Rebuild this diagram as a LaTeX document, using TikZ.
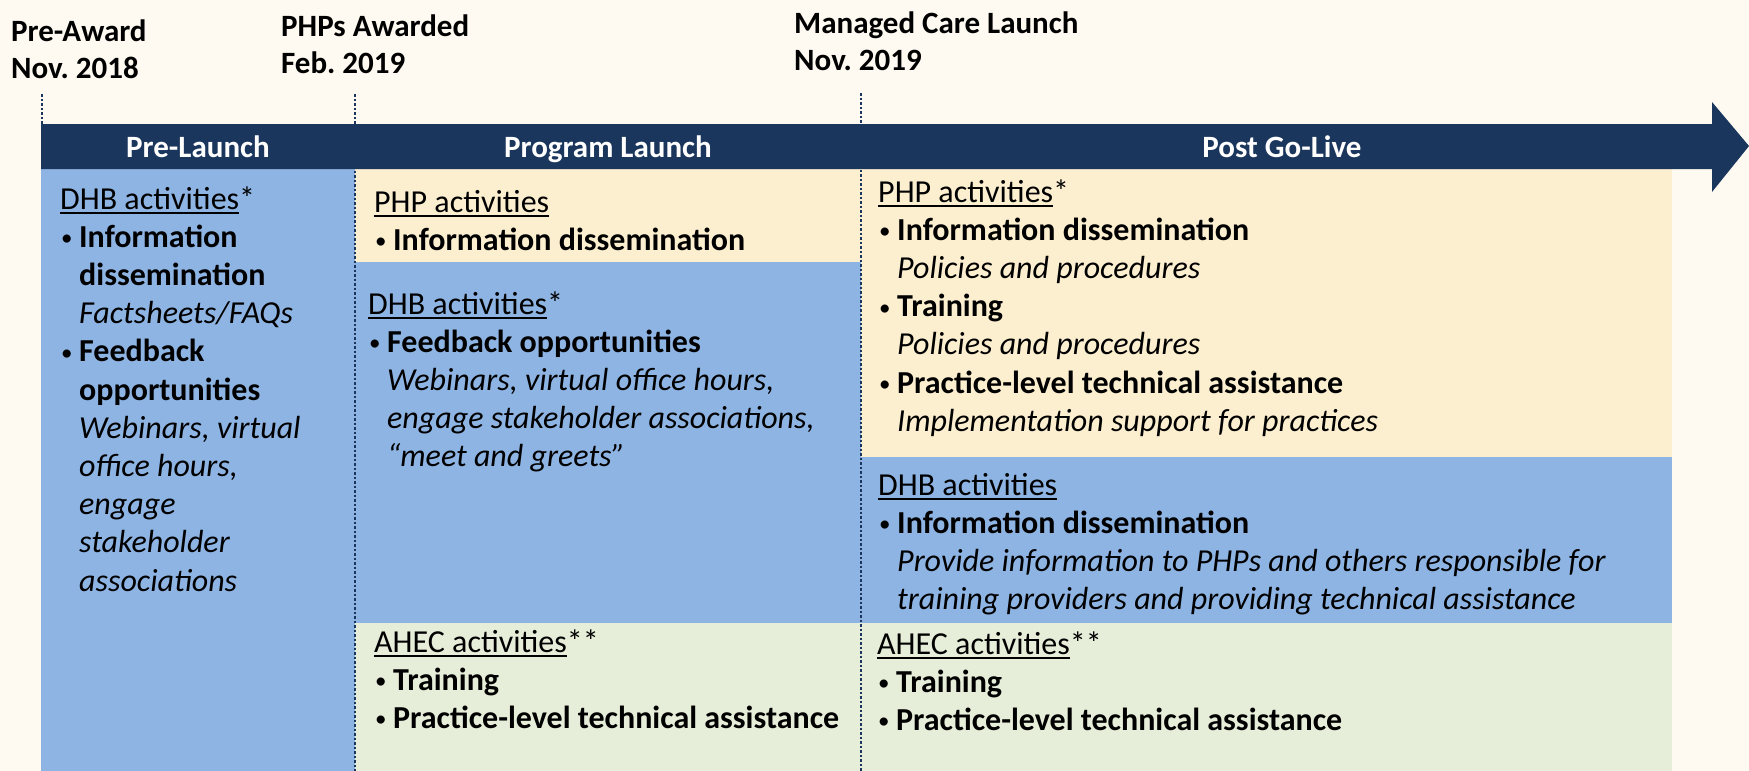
\documentclass[tikz,border=0pt]{standalone}
\usepackage{fontspec}
\setmainfont{Carlito}
\usepackage{tikz}
\usetikzlibrary{positioning}

\definecolor{bgcream}{HTML}{FEFAF1}
\definecolor{navy}{HTML}{1B365D}
\definecolor{dhbblue}{HTML}{8EB4E3}
\definecolor{phptan}{HTML}{FCEFD0}
\definecolor{ahecgreen}{HTML}{E6EDD8}

\frenchspacing
% text sizes
\newcommand\body{\fontsize{32}{38.2}\selectfont}
\newcommand\hdrfont{\fontsize{31}{37}\selectfont\bfseries}
% lines stacked from the first baseline down
\newcommand\stack[1]{\begin{tabular}[t]{@{}l@{}}#1\end{tabular}}
% underlined group heading, bullet and hanging indent
\newcommand\ulh[1]{\setbox0=\hbox{#1}\rlap{\rule[-5pt]{\wd0}{1.8pt}}\box0}
\newcommand\bul{\makebox[19pt][l]{\hspace{1pt}\raisebox{1.5pt}{\fontsize{23}{23}\selectfont•}}}
\newcommand\ind{\hspace*{19pt}}

\tikzset{
  hdr/.style={anchor=base west, inner sep=0pt, font=\hdrfont},
  txt/.style={anchor=base west, inner sep=0pt, font=\body},
  phase/.style={anchor=base, inner sep=0pt, text=white, font=\hdrfont},
  milestone/.style={navy, line width=2.2pt, dash pattern=on 2.5pt off 2pt},
}

\begin{document}
\begin{tikzpicture}[x=1pt, y=-1pt]
\useasboundingbox (0,0) rectangle (1749,771);
\fill[bgcream] (0,0) rectangle (1749,771);

% milestones
\node[hdr] (award) at (11,41) {\stack{Pre-Award\\Nov. 2018}};
\node[hdr] (awarded) at (281,36) {\stack{PHPs Awarded\\Feb. 2019}};
\node[hdr] (golive) at (794,33) {\stack{Managed Care Launch\\Nov. 2019}};

% phase boxes
\fill[dhbblue] (41,168) rectangle (355,771);
\fill[phptan] (355,168) rectangle (861,262);
\fill[dhbblue] (355,262) rectangle (861,623);
\fill[ahecgreen] (355,623) rectangle (861,771);
\fill[phptan] (861,168) rectangle (1672,457);
\fill[dhbblue] (861,457) rectangle (1672,623);
\fill[ahecgreen] (861,623) rectangle (1672,771);

% timeline arrow
\fill[navy] (41,124) -- (1712,124) -- (1712,102) -- (1749,146)
  -- (1712,192) -- (1712,169) -- (41,169) -- cycle;
\foreach \n/\x/\t in {prelaunch/198/Pre-Launch, launch/608/Program Launch, postlive/1282/Post Go-Live}
  \node[phase] (\n) at (\x,157) {\t};

% dotted milestone lines
\coordinate (m1a) at (42,94);  \coordinate (m1b) at (42,124);
\coordinate (m2a) at (355,94); \coordinate (m2b) at (355,771);
\coordinate (m3a) at (861,93); \coordinate (m3b) at (861,771);
\foreach \m in {m1,m2,m3}
  \draw[milestone] (\m a) -- (\m b);

% Pre-Launch
\node[txt] (dhbpre) at (60,209) {\stack{\ulh{DHB activities}*\\
  \bul\textbf{Information}\\
  \ind\textbf{dissemination}\\
  \ind\textit{Factsheets/FAQs}\\
  \bul\textbf{Feedback}\\
  \ind\textbf{opportunities}\\
  \ind\textit{Webinars, virtual}\\
  \ind\textit{office hours,}\\
  \ind\textit{engage}\\
  \ind\textit{stakeholder}\\
  \ind\textit{associations}}};

% Program Launch
\node[txt] (phplaunch) at (374,212) {\stack{\ulh{PHP activities}\\
  \bul\textbf{Information dissemination}}};
\node[txt] (dhblaunch) at (368,314) {\stack{\ulh{DHB activities}*\\
  \bul\textbf{Feedback opportunities}\\
  \ind\textit{Webinars, virtual office hours,}\\
  \ind\textit{engage stakeholder associations,}\\
  \ind\textit{``meet and greets''}}};
\node[txt] (aheclaunch) at (374,652) {\stack{\ulh{AHEC activities}**\\
  \bul\textbf{Training}\\
  \bul\textbf{Practice-level technical assistance}}};

% Post Go-Live
\node[txt] (phplive) at (878,202) {\stack{\ulh{PHP activities}*\\
  \bul\textbf{Information dissemination}\\
  \ind\textit{Policies and procedures}\\
  \bul\textbf{Training}\\
  \ind\textit{Policies and procedures}\\
  \bul\textbf{Practice-level technical assistance}\\
  \ind\textit{Implementation support for practices}}};
\node[txt] (dhblive) at (878,495) {\stack{\ulh{DHB activities}\\
  \bul\textbf{Information dissemination}\\
  \ind\textit{Provide information to PHPs and others responsible for}\\
  \ind\textit{training providers and providing technical assistance}}};
\node[txt] (aheclive) at (877,654) {\stack{\ulh{AHEC activities}**\\
  \bul\textbf{Training}\\
  \bul\textbf{Practice-level technical assistance}}};
\end{tikzpicture}
\end{document}
